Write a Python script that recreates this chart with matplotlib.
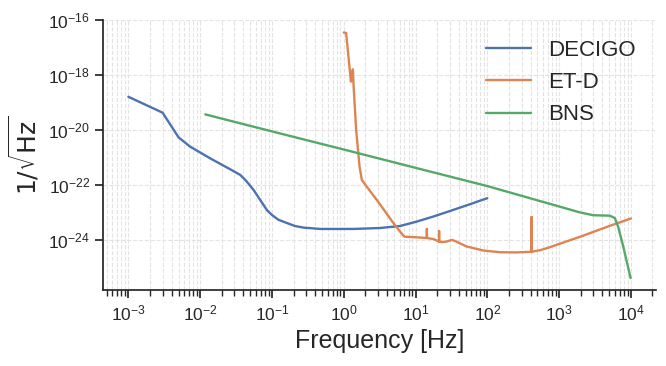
import matplotlib
matplotlib.use('Agg')
import matplotlib.pyplot as plt
import matplotlib.ticker as mticker
import seaborn as sns

sns.set_theme(style='ticks', context='notebook')
plt.rcParams['font.family'] = ['Liberation Sans', 'DejaVu Sans']

# DECIGO sensitivity
decigo_f = [1e-3, 3.0e-3, 5.0e-3, 7.3e-3, 1.38e-2, 2.63e-2, 3.63e-2, 4.37e-2,
            5.55e-2, 6.46e-2, 7.64e-2, 8.61e-2, 0.1, 0.123, 0.162, 0.209,
            0.275, 0.47, 1.37, 3.16, 6.1, 10.0, 17.8, 31.6, 56.2, 100.0]
decigo_asd = [1.62e-19, 4.27e-20, 5.4e-21, 2.45e-21, 9.3e-22, 3.7e-22, 2.3e-22,
              1.41e-22, 6.6e-23, 3.6e-23, 1.86e-23, 1.17e-23, 8.1e-24, 5.4e-24,
              4.1e-24, 3.2e-24, 2.8e-24, 2.5e-24, 2.5e-24, 2.7e-24, 3.2e-24,
              4.5e-24, 7.1e-24, 1.17e-23, 1.95e-23, 3.3e-23]

# ET-D sensitivity
etd_f = [1.0, 1.08, 1.26, 1.28, 1.34, 1.37, 1.49, 1.66, 1.79, 2.9, 5.1, 6.1,
         6.8, 7.1, 9.3, 14.4, 14.4, 14.4, 17.8, 21.3, 21.3, 21.3, 23.2, 27.2,
         32.0, 35.5, 51.6, 88.0, 150.0, 257.0, 415.0, 415.0, 415.0, 541.0,
         741.0, 1000.0, 2000.0, 5000.0, 1e4]
etd_asd = [3.55e-17, 3.4e-17, 5.75e-19, 7.8e-19, 1.62e-18, 4.4e-19, 1e-20,
           4.7e-22, 1.5e-22, 2.8e-23, 3.6e-24, 2.0e-24, 1.4e-24, 1.3e-24,
           1.26e-24, 1.17e-24, 2.5e-24, 1.17e-24, 1.07e-24, 8.7e-25, 2.1e-24,
           8.7e-25, 8.3e-25, 8.7e-25, 1.0e-24, 9.1e-25, 5.75e-25, 4.1e-25,
           3.55e-25, 3.5e-25, 3.7e-25, 6.8e-24, 3.7e-25, 4.2e-25, 5.4e-25,
           7.1e-25, 1.32e-24, 3.2e-24, 6.0e-24]

# BNS signal
bns_f = [1.18e-2, 0.1, 1.0, 10.0, 100.0, 1020.0, 1950.0, 2990.0, 5090.0,
         5980.0, 6650.0, 7820.0, 9900.0]
bns_asd = [3.7e-20, 8.9e-21, 1.95e-21, 4.2e-22, 9.1e-23, 1.62e-23, 1.0e-23,
           7.9e-24, 7.6e-24, 6.2e-24, 3.0e-24, 5.8e-25, 4.1e-26]

fig = plt.figure(figsize=(6.66, 3.66), dpi=100)
ax = fig.add_axes([0.155, 0.208, 0.83, 0.737])

ax.loglog(decigo_f, decigo_asd, lw=1.7, label='DECIGO')
ax.loglog(etd_f, etd_asd, lw=1.7, label='ET-D')
ax.loglog(bns_f, bns_asd, lw=1.7, label='BNS')

ax.set_xlim(10 ** -3.35, 10 ** 4.35)
ax.set_ylim(10 ** -25.82, 1e-16)
ax.set_yticks([1e-24, 1e-22, 1e-20, 1e-18, 1e-16])
ax.yaxis.set_minor_locator(mticker.NullLocator())
ax.tick_params(axis='both', which='major', labelsize=12.5)

ax.grid(True, which='both', ls='--', color='0.89', lw=0.8)
ax.set_xlabel('Frequency [Hz]', fontsize=18)
ax.set_ylabel(r'$1/\sqrt{\mathrm{Hz}}$', fontsize=18)
ax.yaxis.set_label_coords(-0.112, 0.5)
ax.legend(loc='upper right', frameon=False, fontsize=16)
sns.despine(ax=ax)

fig.savefig('out.png', dpi=100)
